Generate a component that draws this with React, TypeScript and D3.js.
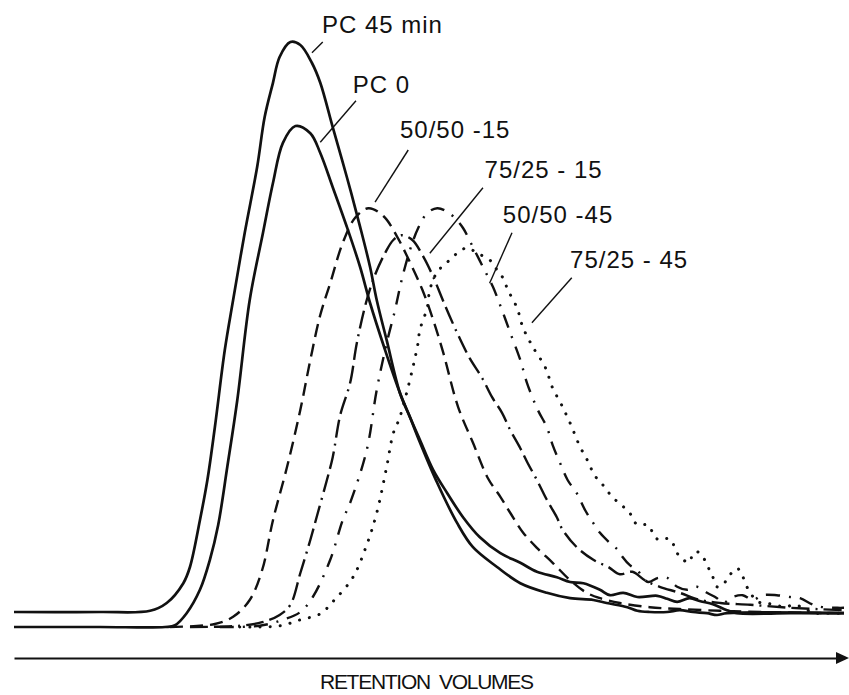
import { useEffect, useRef } from "react";
import * as d3 from "d3";

// GPC traces: [retention volume (rel. units), detector response (rel. units)]
const pc45: [number, number][] = [
  [0, 2.5], [10.4, 2.5], [16.4, 2.7], [18.4, 4.0], [20.4, 7.3], [21.2, 10.0], [22.4, 17.8], [23.3, 24.5],
  [24.2, 33.3], [25.4, 46.2], [26.4, 54.5], [27.8, 65.7], [29.3, 76.7], [30.2, 85.0], [31.2, 90.7],
  [32.0, 95.0], [33.3, 97.5], [34.5, 97.0], [35.9, 94.0], [36.9, 90.7], [38.4, 83.3], [40.1, 75.0],
  [41.7, 66.7], [42.9, 60.0], [43.7, 54.5], [44.9, 47.8], [46.5, 39.0], [47.7, 35.0], [48.9, 31.2],
  [50.5, 26.2], [52.2, 22.3], [54.1, 18.3], [56.1, 15.0], [58.6, 12.3], [61.0, 10.7], [63.0, 9.2],
  [65.4, 8.3], [67.0, 7.5], [68.6, 7.3], [70.6, 6.2], [71.8, 5.3], [73.4, 5.7], [75.1, 5.0], [77.5, 5.2],
  [78.7, 4.7], [79.9, 4.2], [81.4, 4.8], [82.7, 4.3], [84.2, 3.8], [85.9, 2.8], [87.1, 2.3], [93.5, 2.3],
  [100, 2.3],
];

const pc0: [number, number][] = [
  [0, 0], [10.4, 0], [18.2, 0], [19.4, 0.3], [20.8, 2.3], [22.4, 6.2], [23.6, 11.2], [24.6, 17.0],
  [25.7, 26.7], [26.9, 37.8], [28.4, 54.5], [30.0, 65.7], [31.2, 74.0], [32.4, 80.7], [33.9, 83.5],
  [35.7, 82.3], [36.9, 79.0], [38.4, 73.3], [40.1, 66.7], [41.7, 60.0], [42.9, 54.0], [44.7, 46.2],
  [46.5, 39.0], [47.7, 35.0], [48.9, 30.8], [51.0, 24.0], [53.4, 17.3], [55.3, 13.3], [58.2, 10.0],
  [61.0, 7.3], [64.2, 5.7], [67.0, 4.8], [69.8, 4.5], [71.4, 4.0], [73.9, 3.3], [75.1, 2.7], [76.6, 2.5],
  [78.7, 2.5], [80.2, 2.8], [81.8, 2.5], [83.5, 2.3], [84.7, 2.0], [85.9, 2.3], [100, 2.3],
];

const blend5050_15: [number, number][] = [
  [18.8, 0], [24.2, 0.5], [26.4, 1.7], [28.4, 4.5], [29.9, 9.5], [31.2, 17.8], [32.9, 26.7], [34.5, 36.2],
  [35.7, 44.5], [36.9, 52.0], [38.1, 57.3], [39.6, 64.0], [41.1, 68.2], [42.7, 69.8], [44.5, 68.5],
  [46.1, 65.2], [47.7, 60.8], [49.2, 56.2], [50.5, 51.2], [51.7, 45.8], [53.5, 36.7], [55.3, 30.7],
  [57.1, 24.8], [58.6, 21.7], [59.8, 19.0], [61.3, 15.8], [63.0, 13.2], [64.9, 10.7], [67.0, 7.8],
  [69.0, 5.7], [70.6, 4.8], [73.0, 4.0], [76.6, 3.3], [80.2, 3.0], [85.1, 2.7], [89.9, 2.5], [100, 2.3],
];

const blend7525_15: [number, number][] = [
  [21.2, 0], [27.2, 0.2], [29.9, 0.8], [32.0, 2.0], [33.3, 3.7], [34.5, 9.0], [35.7, 14.5], [36.6, 19.0],
  [37.7, 24.5], [38.4, 28.3], [39.3, 35.3], [40.5, 40.7], [41.3, 47.3], [42.5, 54.5], [43.5, 58.7],
  [44.7, 62.3], [45.7, 64.5], [46.7, 65.3], [48.0, 64.5], [49.2, 62.0], [50.4, 58.7], [51.9, 53.7],
  [53.5, 48.7], [54.9, 44.8], [56.4, 41.5], [57.6, 38.3], [58.8, 35.7], [59.8, 32.8], [61.0, 29.8],
  [61.9, 27.3], [63.0, 24.5], [64.2, 21.2], [65.4, 18.3], [66.1, 16.2], [67.8, 13.3], [69.8, 11.2],
  [71.6, 10.0], [73.0, 8.8], [74.5, 9.2], [76.0, 7.8], [77.8, 6.7], [80.2, 5.7], [82.7, 4.5], [85.1, 4.0],
  [88.7, 3.7], [93.5, 3.2], [100, 2.8],
];

const blend5050_45: [number, number][] = [
  [24.8, 0], [29.6, 0.2], [32.4, 1.2], [34.5, 2.5], [36.0, 5.0], [38.1, 11.2], [39.6, 17.8], [40.5, 20.7],
  [42.5, 29.5], [43.7, 39.5], [44.9, 47.3], [45.9, 52.8], [46.7, 57.8], [47.7, 62.8], [48.7, 66.5],
  [49.8, 69.0], [51.0, 69.8], [52.2, 69.2], [53.1, 68.2], [54.1, 66.5], [55.3, 63.3], [56.5, 60.0],
  [57.7, 56.7], [58.8, 52.8], [59.8, 49.0], [61.0, 44.5], [61.8, 40.7], [63.1, 36.2], [64.2, 33.3],
  [64.9, 30.3], [65.8, 27.3], [66.7, 24.5], [67.8, 22.3], [68.8, 19.5], [69.8, 17.3], [70.6, 15.7],
  [71.8, 14.0], [72.8, 12.8], [73.3, 11.7], [74.2, 10.3], [75.1, 9.5], [75.7, 8.3], [76.4, 7.5],
  [77.6, 8.2], [78.7, 8.2], [79.9, 6.7], [81.1, 6.2], [82.3, 6.7], [83.5, 5.7], [84.7, 4.8], [85.4, 4.0],
  [86.6, 5.0], [87.8, 5.3], [89.0, 4.5], [90.2, 5.3], [91.9, 5.3], [93.5, 5.0], [94.7, 4.8], [96.3, 3.7],
  [97.5, 3.3], [99.2, 3.2], [100, 3.2],
];

const blend7525_45: [number, number][] = [
  [27.2, 0], [32.0, 0.2], [34.5, 1.2], [36.9, 2.2], [38.4, 4.2], [40.8, 8.2], [42.5, 13.7], [43.7, 19.0],
  [44.9, 26.7], [45.7, 32.3], [46.5, 35.0], [48.6, 46.7], [48.9, 49.5], [49.8, 53.3], [50.1, 56.2],
  [51.0, 59.2], [52.2, 60.8], [53.4, 62.3], [54.6, 63.2], [55.8, 62.3], [57.3, 61.2], [58.2, 59.5],
  [58.9, 58.2], [59.5, 56.2], [60.6, 53.2], [61.3, 50.0], [62.5, 46.7], [64.0, 43.3], [64.9, 39.8],
  [65.8, 37.5], [66.4, 35.8], [67.0, 34.0], [67.6, 32.0], [68.2, 30.0], [68.9, 28.3], [69.5, 26.5],
  [70.1, 25.0], [70.7, 24.0], [71.3, 23.2], [72.0, 21.7], [72.9, 20.7], [73.6, 19.8], [74.2, 19.0],
  [74.6, 17.8], [75.2, 17.0], [76.4, 17.0], [77.2, 15.0], [77.8, 14.5], [79.0, 14.7], [79.9, 12.3],
  [80.6, 11.2], [81.4, 10.8], [81.8, 12.3], [82.4, 12.5], [83.0, 11.7], [83.5, 10.3], [84.1, 8.7],
  [84.7, 6.7], [85.4, 7.0], [86.0, 8.2], [87.1, 9.8], [87.7, 8.7], [88.3, 6.7], [88.9, 5.3], [89.6, 4.2],
  [90.5, 4.0], [91.7, 3.7], [92.9, 3.3], [93.9, 3.7], [95.1, 3.2], [96.3, 2.3], [97.3, 2.3], [100, 2.3],
];

const series = [
  { key: "pc45", data: pc45, dash: "none", width: 2.7, cap: "butt" },
  { key: "pc0", data: pc0, dash: "none", width: 2.7, cap: "butt" },
  { key: "5050-15", data: blend5050_15, dash: "13,7", width: 2.4, cap: "butt" },
  { key: "7525-15", data: blend7525_15, dash: "18,6,18,6,2,6", width: 2.4, cap: "butt" },
  { key: "5050-45", data: blend5050_45, dash: "14,9,2,9", width: 2.4, cap: "butt" },
  { key: "7525-45", data: blend7525_45, dash: "0.1,10", width: 3, cap: "round" },
];

// label text, text anchor point, leader line from -> to (data units)
const labelTexts = ["PC 45 min", "PC 0", "50/50 -15", "75/25 - 15", "50/50 -45", "75/25 - 45"];
const labelPos: [number, number][] = [[37.1, 99.0], [40.8, 89.0], [46.5, 81.5], [56.7, 74.8], [58.9, 67.3], [67.0, 59.8]];
const leaderFrom: [number, number][] = [[35.9, 95.7], [36.9, 80.8], [43.5, 70.8], [50.1, 62.3], [57.3, 57.3], [62.4, 50.7]];
const leaderTo: [number, number][] = [[37.2, 97.5], [41.2, 87.7], [47.5, 79.5], [56.5, 73.2], [60.0, 65.7], [67.2, 58.2]];

const xTitle = "RETENTION  VOLUMES";

export default function App() {
  const svgRef = useRef<SVGSVGElement>(null);

  useEffect(() => {
    if (!svgRef.current) return;
    const svg = d3.select(svgRef.current);
    svg.selectAll("*").remove();

    const W = 849;
    const H = 695;
    const x = d3.scaleLinear().domain([0, 100]).range([14, 844]);
    const y = d3.scaleLinear().domain([0, 100]).range([627, 27]);

    svg.append("rect").attr("width", W).attr("height", H).attr("fill", "white");

    const line = d3.line<[number, number]>()
      .x((d) => x(d[0])).y((d) => y(d[1]))
      .curve(d3.curveCatmullRom.alpha(0.5));

    series.forEach((s) => {
      svg.append("path")
        .datum(s.data)
        .attr("fill", "none")
        .attr("stroke", "#111")
        .attr("stroke-width", s.width)
        .attr("stroke-linecap", s.cap)
        .attr("stroke-linejoin", "round")
        .attr("stroke-dasharray", s.dash)
        .attr("d", line);
    });

    // 라벨 + 지시선
    const font = "'Liberation Sans', Arial, sans-serif";
    labelTexts.forEach((t, i) => {
      svg.append("line")
        .attr("x1", x(leaderFrom[i][0])).attr("y1", y(leaderFrom[i][1]))
        .attr("x2", x(leaderTo[i][0])).attr("y2", y(leaderTo[i][1]))
        .attr("stroke", "#111").attr("stroke-width", 1.4);
      svg.append("text")
        .attr("x", x(labelPos[i][0])).attr("y", y(labelPos[i][1]))
        .attr("font-family", font).attr("font-size", 24)
        .attr("letter-spacing", 1)
        .attr("fill", "#111")
        .style("white-space", "pre")
        .text(t);
    });

    // x축 (눈금 없음, 화살표)
    const axisY = 658;
    const ax = svg.append("g")
      .attr("transform", `translate(0,${axisY})`)
      .call(d3.axisBottom(x).ticks(0).tickSizeOuter(0));
    ax.select(".domain").attr("stroke", "#111").attr("stroke-width", 2);
    ax.selectAll("text").remove();
    const xEnd = x.range()[1];
    svg.append("path")
      .attr("d", `M${xEnd - 8},${axisY - 6}L${xEnd + 5},${axisY}L${xEnd - 8},${axisY + 6}Z`)
      .attr("fill", "#111");

    svg.append("text")
      .attr("x", (x.range()[0] + x.range()[1]) / 2 - 2)
      .attr("y", 689)
      .attr("text-anchor", "middle")
      .attr("font-family", font).attr("font-size", 21)
      .attr("textLength", 214).attr("lengthAdjust", "spacing")
      .attr("fill", "#111")
      .style("white-space", "pre")
      .text(xTitle);
  }, []);

  return (
    <svg
      ref={svgRef}
      width={849}
      height={695}
      style={{ position: "absolute", left: 0, top: 0, background: "white" }}
    />
  );
}
